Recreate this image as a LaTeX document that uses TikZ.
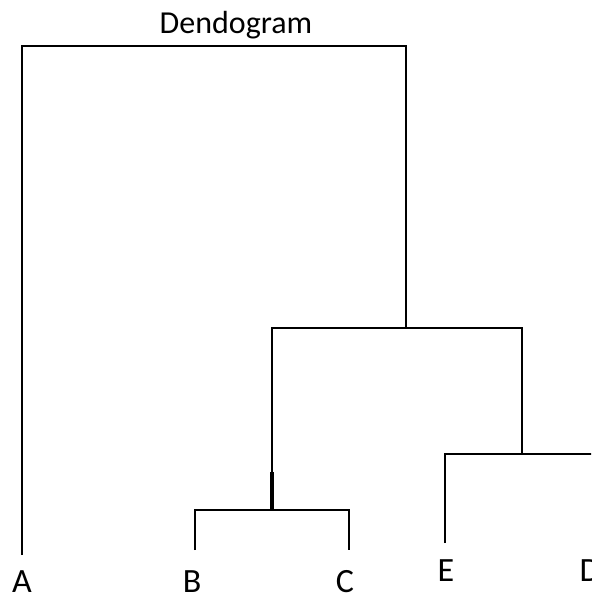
\documentclass[tikz,border=0pt]{standalone}
\usepackage{fontspec}
\setmainfont{Carlito}
\tikzstyle{leaf}=[inner sep=0pt,font=\fontsize{17}{19}\selectfont]
\tikzstyle{title}=[inner sep=0pt,font=\fontsize{16}{18}\selectfont]
\tikzstyle{branch}=[draw,line width=0.8pt]

\begin{document}
\begin{tikzpicture}[x=0.5pt,y=-0.5pt]
        \clip (0,0) rectangle (591,597);
        \node[title] (title) at (236,25) {Dendogram};
        % leaves
        \node[leaf] (A) at (22,582) {A};
        \node[leaf] (B) at (192,582) {B};
        \node[leaf] (C) at (345,582) {C};
        \node[leaf] (E) at (446,571) {E};
        \node[leaf] (D) at (590,571) {D};
        \coordinate (ta) at (22,555);
        \coordinate (tb) at (195,550);
        \coordinate (tc) at (349,550);
        \coordinate (te) at (445,543);
        \coordinate (td) at (600,543);
        % merges
        \coordinate (r) at (214,46);
        \coordinate (j1) at (406,328);
        \coordinate (j2) at (272,510);
        \coordinate (j3) at (522,454);
        \coordinate (k) at (272,472);
        \path[branch] (ta) |- (r) -| (j1);
        \path[branch] (j2) |- (j1) -| (j3);
        \path[branch] (tb) |- (j2) -| (tc);
        \path[branch] (te) |- (j3) -| (td);
        \path[branch,line width=1.8pt] (j2) -- (k);
    \end{tikzpicture}
\end{document}
